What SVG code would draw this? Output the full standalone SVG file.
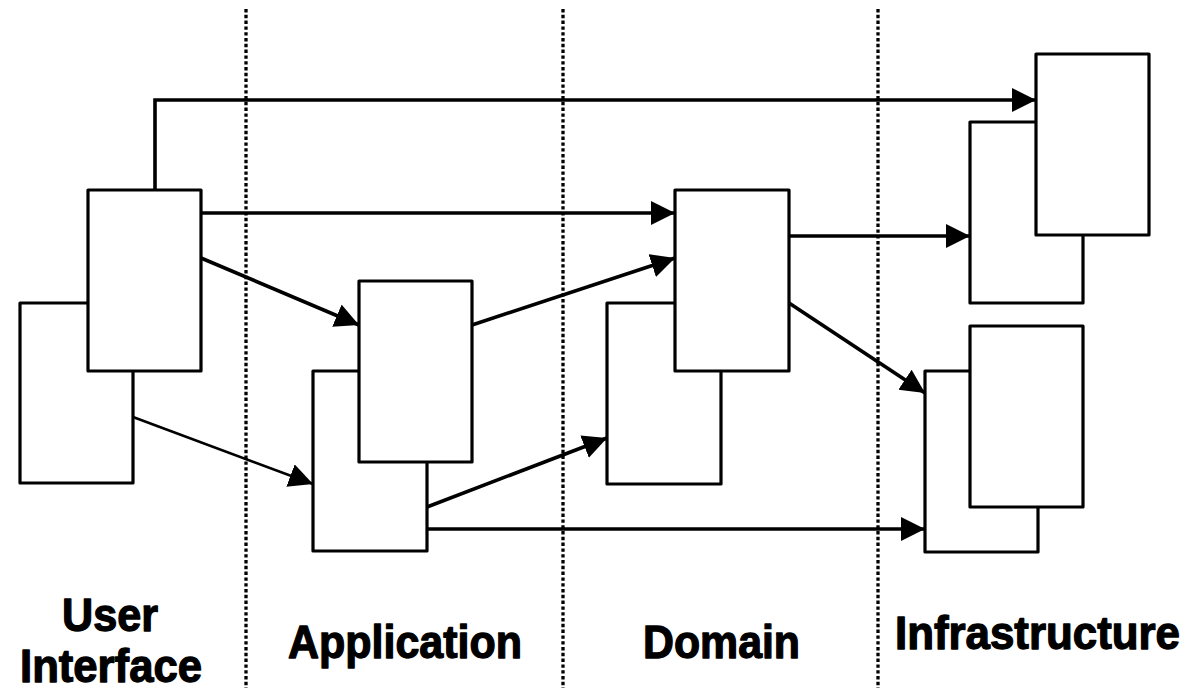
<svg xmlns="http://www.w3.org/2000/svg" width="1194" height="698" viewBox="0 0 1194 698">
<style>
.box{fill:#fff;stroke:#000;stroke-width:3.2;stroke-linejoin:round}
.sep{stroke:#000;stroke-width:3.3;stroke-dasharray:3.4 2.4;fill:none}
.conn{stroke:#000;stroke-width:3.6;fill:none}
.thin{stroke-width:2.6}
.lbl{font-family:"Liberation Sans",Arial,sans-serif;font-weight:bold;font-size:46px;fill:#000;stroke:#000;stroke-width:1.3;stroke-linejoin:round}
</style>
<defs>
<marker id="arr" markerUnits="userSpaceOnUse" markerWidth="26" markerHeight="26" refX="24" refY="12" orient="auto" viewBox="0 0 26 26">
<path d="M0,0 L24,12 L0,24 z" fill="#000"/>
</marker>
</defs>
<rect width="1194" height="698" fill="#fff"/>
<g id="separators">
<line class="sep" x1="246" y1="9" x2="246" y2="688"/>
<line class="sep" x1="563" y1="9" x2="563" y2="688"/>
<line class="sep" x1="878" y1="9" x2="878" y2="688"/>
</g>
<g id="ui-back"><rect class="box" x="20" y="303" width="113" height="180"/></g>
<g id="ui-front"><rect class="box" x="88" y="190" width="113" height="181"/></g>
<g id="app-back"><rect class="box" x="313" y="371" width="114" height="180"/></g>
<g id="app-front"><rect class="box" x="359" y="281" width="113" height="181"/></g>
<g id="domain-back"><rect class="box" x="607" y="303" width="114" height="181"/></g>
<g id="domain-front"><rect class="box" x="675" y="190" width="114" height="181"/></g>
<g id="infra-top-back"><rect class="box" x="970" y="122" width="113" height="181"/></g>
<g id="infra-top-front"><rect class="box" x="1036" y="54" width="113" height="181"/></g>
<g id="infra-bottom-back"><rect class="box" x="925" y="371" width="113" height="181"/></g>
<g id="infra-bottom-front"><rect class="box" x="970" y="326" width="113" height="181"/></g>
<g id="connectors">
<polyline class="conn" points="155,190 155,100 1036,100" marker-end="url(#arr)"/>
<line class="conn" x1="201" y1="213" x2="675" y2="213" marker-end="url(#arr)"/>
<line class="conn" x1="201" y1="258" x2="359" y2="325" marker-end="url(#arr)"/>
<line class="conn thin" x1="133" y1="417" x2="313" y2="484" marker-end="url(#arr)"/>
<line class="conn" x1="472" y1="325" x2="675" y2="258" marker-end="url(#arr)"/>
<line class="conn" x1="427" y1="507" x2="607" y2="438" marker-end="url(#arr)"/>
<line class="conn" x1="427" y1="529" x2="925" y2="529" marker-end="url(#arr)"/>
<line class="conn" x1="789" y1="236" x2="970" y2="236" marker-end="url(#arr)"/>
<line class="conn" x1="789" y1="303" x2="925" y2="393" marker-end="url(#arr)"/>
</g>
<g id="labels">
<text class="lbl" x="62" y="631" textLength="96" lengthAdjust="spacingAndGlyphs">User</text>
<text class="lbl" x="20" y="682" textLength="182" lengthAdjust="spacingAndGlyphs">Interface</text>
<text class="lbl" x="288" y="658" textLength="234" lengthAdjust="spacingAndGlyphs">Application</text>
<text class="lbl" x="643" y="658" textLength="157" lengthAdjust="spacingAndGlyphs">Domain</text>
<text class="lbl" x="895" y="649" textLength="285" lengthAdjust="spacingAndGlyphs">Infrastructure</text>
</g>
</svg>
